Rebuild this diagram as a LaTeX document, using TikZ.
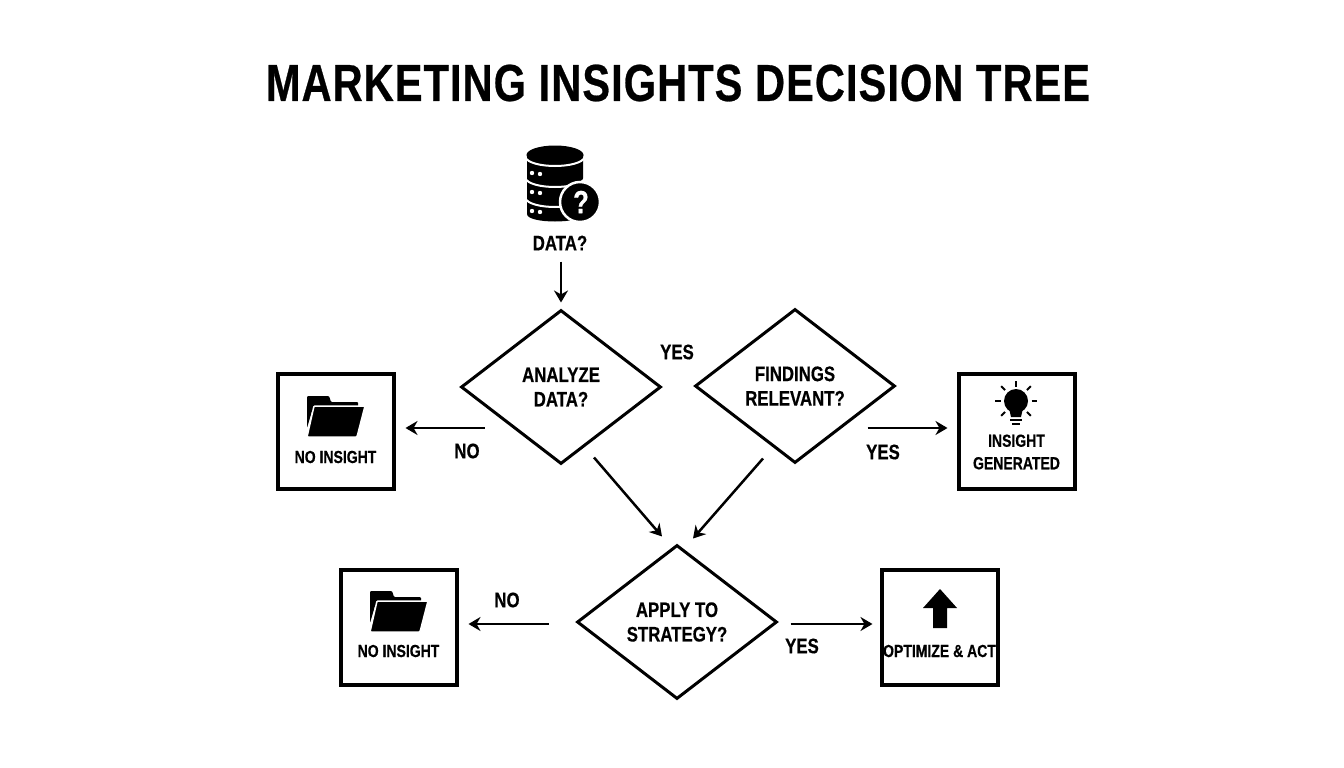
\documentclass[tikz,border=0pt]{standalone}
\usepackage{fontspec}
\setmainfont[FakeStretch=0.8,BoldFeatures={FakeBold=0.5}]{Liberation Sans}
\newfontfamily\titlefont[FakeStretch=0.8,LetterSpace=2,BoldFeatures={FakeBold=0.5}]{Liberation Sans}
\usetikzlibrary{calc,arrows.meta,shapes.geometric}

\tikzset{
    decision/.style={draw,shape=diamond,line width=3pt,aspect=1.3,inner sep=0pt,minimum width=200pt,minimum height=154pt,align=center,font=\fontsize{21}{24.5}\selectfont\bfseries},
    result/.style={draw,rectangle,line width=4pt,minimum width=116pt,minimum height=115pt},
    boxtext/.style={align=center,inner sep=0pt,font=\fontsize{17.5}{22.5}\selectfont\bfseries},
    answer/.style={inner sep=0pt,font=\fontsize{21}{23}\selectfont\bfseries},
    flow/.style={line width=2.5pt,-{Stealth[length=12pt,width=14pt]}},
    pics/foldericon/.style={code={
        \fill[rounded corners=1pt] (-29,-20) -- (-7,-20) -- (-5,-14) -- (22,-14) -- (22,-5) -- (-24,-5) -- (-29,12) -- cycle;
        \fill[rounded corners=1pt,draw=white,line width=1.5pt] (-22,-10) -- (29,-10) -- (21,21) -- (-29,21) -- cycle;
    }},
}

\begin{document}
\begin{tikzpicture}[x=1pt,y=-1pt]
    \useasboundingbox (0,0) rectangle (1344,768);

    \node[inner sep=0pt,font=\fontsize{52}{54}\selectfont\titlefont\bfseries] (title) at (678,83) {MARKETING INSIGHTS DECISION TREE};

    % database
    \fill (527,155) -- (527,214) .. controls (527,224) and (583,224) .. (583,214) -- (583,155) -- cycle;
    \fill (555,155) ellipse (28.5 and 9.5);
    \foreach \yy in {157,178,198} {
        \draw[white,line width=2pt] (525,\yy) .. controls (530,\yy+12) and (580,\yy+12) .. (585,\yy);
    }
    \foreach \yy in {173,192,211} {
        \fill[white] (532,\yy) circle (2.2);
        \fill[white] (540,\yy+1) circle (2.2);
    }
    \fill[draw=white,line width=2.5pt] (580,202) circle (20);
    \node[inner sep=0pt,white,font=\fontsize{32}{32}\selectfont\bfseries] (mark) at (581,202) {?};
    \node[inner sep=0pt,font=\fontsize{21}{23}\selectfont\bfseries] (data) at (560,243) {DATA?};

    % decisions
    \node[decision] (analyze) at (561,387) {ANALYZE\\DATA?};
    \node[decision] (findings) at (795,386) {FINDINGS\\RELEVANT?};
    \node[decision] (apply) at (677,622) {APPLY TO\\STRATEGY?};

    % results
    \node[result] (noinsighta) at (335.5,431) {};
    \node[result] (generated) at (1016.5,431) {};
    \node[result] (noinsightb) at (398.5,627) {};
    \node[result] (optimize) at (939.5,627) {};

    \pic at (336,416) {foldericon};
    \pic at (399,611) {foldericon};
    \node[boxtext] (noa) at (335.5,457) {NO INSIGHT};
    \node[boxtext] (nob) at (398.5,651) {NO INSIGHT};
    \node[boxtext] (gen) at (1016.5,452) {INSIGHT\\GENERATED};
    \node[boxtext] (act) at (939.5,651) {OPTIMIZE \& ACT};

    % bulb
    \fill (1016,401) circle (12);
    \fill (1009,408) -- (1023,408) -- (1021,417) -- (1011,417) -- cycle;
    \draw[line width=1.6pt] (1010,420) -- (1022,420) (1012,424) -- (1020,424);
    \foreach \a in {0,45,135,180,225,315} {
        \draw[line width=2pt] ($(1016,401)+(\a:15.5)$) -- ($(1016,401)+(\a:21)$);
    }
    \draw[line width=2pt] (1016,381) -- (1016,387);

    % up arrow
    \fill (940,589) -- (957,608) -- (947,608) -- (947,628) -- (933,628) -- (933,608) -- (923,608) -- cycle;

    % arrows
    \draw[flow] ([yshift=-11pt]data.south -| analyze.north) -- ([yshift=6pt]analyze.north);
    \draw[flow] ($(analyze.west)+(25,41)$) -- ($(noinsighta.east)+(10,-3)$);
    \draw[flow] ($(findings.east)+(-29,42)$) -- ($(generated.west)+(-9,-3)$);
    \draw[flow] ($(analyze.south)+(33,-8)$) -- ($(apply.north)+(-15,-7)$);
    \draw[flow] ($(findings.south)+(-32,-6)$) -- ($(apply.north)+(16,-5)$);
    \draw[flow] ($(apply.west)+(-27,2)$) -- ($(noinsightb.east)+(10,-3)$);
    \draw[flow] ($(apply.east)+(12,2)$) -- ($(optimize.west)+(-7,-3)$);

    % answers
    \node[answer] (yesa) at (677,352) {YES};
    \node[answer] (noc) at (467,451) {NO};
    \node[answer] (yesb) at (883,452) {YES};
    \node[answer] (nod) at (507,600) {NO};
    \node[answer] (yesc) at (802,646) {YES};
\end{tikzpicture}
\end{document}
